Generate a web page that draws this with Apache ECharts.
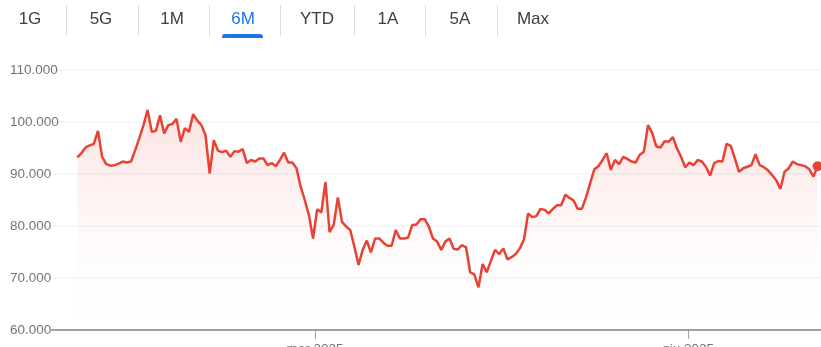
<!DOCTYPE html>
<html>
<head>
<meta charset="utf-8">
<script src="https://cdn.jsdelivr.net/npm/echarts@6/dist/echarts.min.js"></script>
<style>
html,body{margin:0;padding:0;background:#fff;}
#chart{width:821px;height:347px;}
</style>
</head>
<body>
<div id="chart"></div>
<script>
// ---- data (prices in thousands) ----
const tabLabels = ['1G','5G','1M','6M','YTD','1A','5A','Max'];
const activeTab = '6M';
const yTickValues = [60, 70, 80, 90, 100, 110];
const monthTickIndex = [57.5, 147.7];
const monthTickLabels = ['mar 2025', 'giu 2025'];
const prices = [
  93.2, 94.0, 95.1, 95.5, 95.8, 98.3, 93.3, 91.9, 91.6, 91.7,
  92.0, 92.4, 92.2, 92.4, 94.6, 96.9, 99.4, 102.3, 98.1, 98.3,
  101.3, 97.8, 99.4, 99.6, 100.6, 96.2, 98.8, 98.1, 101.5, 100.3,
  99.4, 97.5, 90.1, 96.5, 94.5, 94.2, 94.5, 93.3, 94.4, 94.3,
  94.8, 92.1, 92.7, 92.4, 93.0, 93.0, 91.7, 92.1, 91.5, 92.7,
  94.1, 92.2, 92.2, 91.1, 87.6, 85.0, 82.1, 77.6, 83.2, 82.6,
  88.5, 78.8, 80.2, 85.5, 80.8, 79.9, 79.2, 76.0, 72.5, 75.4,
  77.2, 74.9, 77.6, 77.6, 76.8, 76.2, 76.2, 79.2, 77.6, 77.6,
  77.8, 80.2, 80.3, 81.3, 81.3, 79.9, 77.6, 77.0, 75.4, 77.0,
  77.6, 75.6, 75.5, 76.3, 75.9, 71.1, 70.7, 68.2, 72.7, 71.1,
  73.3, 75.4, 74.6, 75.7, 73.6, 74.0, 74.6, 75.7, 77.4, 82.4,
  81.7, 81.9, 83.3, 83.1, 82.4, 83.3, 84.0, 84.0, 86.0, 85.4,
  84.9, 83.3, 83.3, 85.5, 88.2, 90.9, 91.5, 92.7, 94.0, 90.8,
  92.7, 91.9, 93.3, 92.9, 92.4, 92.2, 93.7, 94.3, 99.4, 97.9,
  95.3, 95.1, 96.3, 96.2, 97.1, 94.9, 93.3, 91.3, 92.2, 91.7,
  92.7, 92.4, 91.4, 89.7, 92.1, 92.5, 92.4, 95.8, 95.4, 93.0,
  90.4, 91.1, 91.4, 91.7, 93.8, 91.7, 91.3, 90.7, 89.8, 88.8,
  87.1, 90.4, 91.1, 92.4, 91.9, 91.7, 91.5, 90.9, 89.5, 91.5
];

// ---- build ----
const lineData = prices.map((v, i) => [i, v]);
const last = lineData[lineData.length - 1];

const tabCenters = [30, 101, 172, 243, 317, 388, 460, 533];
const sepX = [66, 138, 209, 280, 354, 425, 497];
const FONT = '"Liberation Sans", Arial, sans-serif';

const graphics = [];
tabLabels.forEach((t, i) => {
  graphics.push({
    type: 'text', x: tabCenters[i], y: 19,
    style: {
      text: t, x: 0, y: 0, align: 'center', verticalAlign: 'middle',
      font: '17px ' + FONT,
      fill: t === activeTab ? '#1a73e8' : '#3c4043'
    }
  });
});
sepX.forEach(x => {
  graphics.push({
    type: 'line', shape: {x1: x + 0.5, y1: 5, x2: x + 0.5, y2: 36},
    style: {stroke: '#dadce0', lineWidth: 1}
  });
});
const ai = tabLabels.indexOf(activeTab);
graphics.push({
  type: 'rect', shape: {x: tabCenters[ai] - 21, y: 34, width: 41, height: 4, r: [3, 3, 0, 0]},
  style: {fill: '#1a73e8'}
});

const n = prices.length;
const step = (817.6 - 77.3) / (n - 1);

const chart = echarts.init(document.getElementById('chart'), null, {renderer: 'canvas'});
chart.setOption({
  animation: false,
  backgroundColor: '#fff',
  grid: {left: 52, right: 0, top: 70, bottom: 17, containLabel: false, outerBoundsMode: 'none'},
  graphic: graphics,
  xAxis: {
    type: 'value',
    min: -(77.3 - 52) / step,
    max: (n - 1) + (821 - 817.6) / step,
    axisLine: {show: true, lineStyle: {color: '#9aa0a6', width: 2}},
    axisTick: {show: true, customValues: monthTickIndex, length: 9, lineStyle: {color: '#9aa0a6', width: 1}},
    axisLabel: {
      show: true, customValues: monthTickIndex, margin: 12,
      color: '#70757a', fontSize: 13.5, fontFamily: FONT,
      formatter: (v) => {
        const k = monthTickIndex.findIndex(t => Math.abs(t - v) < 0.01);
        return k >= 0 ? monthTickLabels[k] : '';
      }
    },
    splitLine: {show: false}
  },
  yAxis: {
    type: 'value',
    min: yTickValues[0], max: yTickValues[yTickValues.length - 1], interval: 10,
    axisLine: {show: false},
    axisTick: {show: false},
    axisLabel: {
      align: 'left', margin: 42, color: '#70757a', fontSize: 13.5, fontFamily: FONT,
      formatter: v => v + '.000'
    },
    splitLine: {show: true, lineStyle: {color: '#f1f3f4', width: 1.5}}
  },
  series: [
    {
      type: 'line', data: lineData, showSymbol: false, symbol: 'none',
      lineStyle: {color: '#e94235', width: 2.5},
      areaStyle: {
        origin: 'start',
        color: new echarts.graphic.LinearGradient(0, 0, 0, 1, [
          {offset: 0, color: 'rgba(233,66,53,0.2)'},
          {offset: 0.6, color: 'rgba(233,66,53,0.03)'},
          {offset: 1, color: 'rgba(233,66,53,0)'}
        ])
      },
      z: 3
    },
    {
      type: 'scatter', data: [last], symbol: 'circle', symbolSize: 10,
      itemStyle: {color: '#e94235', opacity: 1}, z: 4
    }
  ]
});
</script>
</body>
</html>
